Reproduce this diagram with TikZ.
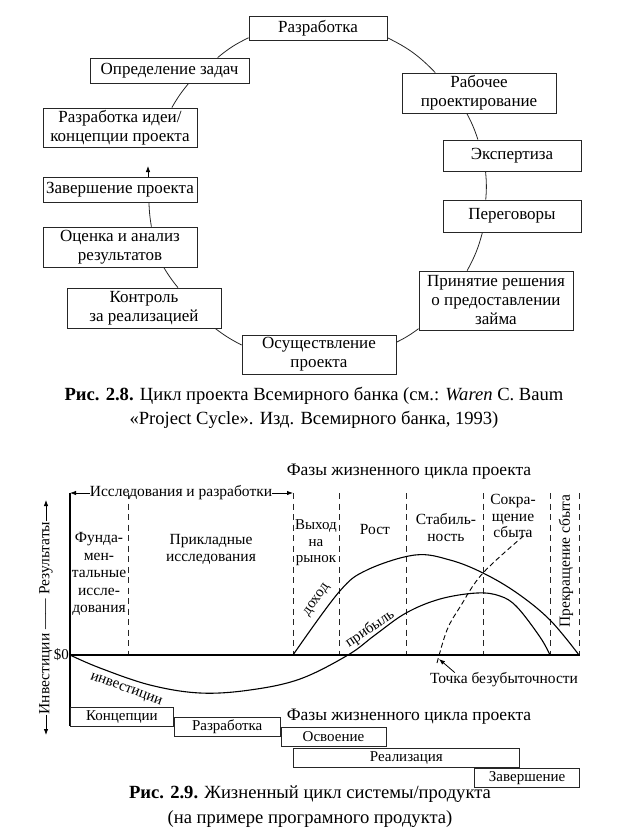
\documentclass[tikz,border=0pt]{standalone}
\usepackage{fontspec}
\setmainfont{Liberation Serif}
\usepackage{tikz}
\usetikzlibrary{arrows.meta, positioning}

\begin{document}
\begin{tikzpicture}[
        x=1pt, y=1pt,
        box/.style = {draw=black!85, rectangle, fill=white, line width=0.8pt, minimum width=154pt, align=center, inner sep=1pt, font=\fontsize{17}{19}\selectfont},
        phase/.style = {draw=black!85, rectangle, line width=0.8pt, minimum height=19pt, inner sep=0pt, font=\fontsize{15}{16}\selectfont},
        lbl/.style = {align=center, inner sep=0pt, font=\fontsize{15.5}{17}\selectfont},
        small/.style = {lbl, font=\fontsize{15}{15}\selectfont},
        link/.style = {draw=black!85, line width=0.8pt},
        arrow/.style = {draw=black, -{Latex[length=6pt, width=4.5pt]}, line width=0.8pt},
        axis/.style = {draw=black, line width=1.6pt},
        sep/.style = {draw=black!85, dash pattern=on 6pt off 4.5pt, line width=0.9pt},
        curve/.style = {draw=black, line width=1.1pt},
        capt/.style = {align=center, inner sep=0pt, font=\fontsize{18.6}{24.5}\selectfont}
    ]
    \useasboundingbox (0,0) rectangle (628,-833);

    % Цикл проекта
    \node (razr)  [box, minimum width=138pt, minimum height=24pt] at (318,-28) {Разработка};
    \node (opr)   [box, minimum width=159pt, minimum height=25pt] at (169.5,-70.5) {Определение задач};
    \node (ideya) [box, minimum height=39pt] at (120,-127.5) {Разработка идеи/\\концепции проекта};
    \node (zav)   [box, minimum height=25pt] at (120,-189.5) {Завершение проекта};
    \node (ocen)  [box, minimum height=40pt] at (120,-247) {Оценка и анализ\\результатов};
    \node (kontr) [box, minimum height=40pt] at (144,-308) {Контроль\\за реализацией};
    \node (osush) [box, minimum height=39pt] at (319,-354.5) {Осуществление\\проекта};
    \node (prin)  [box, minimum height=59pt] at (496,-300.5) {Принятие решения\\о предоставлении\\займа};
    \node (perg)  [box, minimum width=138pt, minimum height=32pt] at (512,-216) {Переговоры};
    \node (eksp)  [box, minimum width=138pt, minimum height=31pt] at (512,-155.5) {Экспертиза};
    \node (rab)   [box, minimum height=40pt] at (479,-93) {Рабочее\\проектирование};

    \draw [link] (razr.188) to[bend right=7] (opr.15);
    \draw [link] (opr.326) to[bend right=5] (ideya.21);
    \draw [link] (zav.336) to[bend right=4] (ocen.33);
    \draw [link] (ocen.335) to[bend right=4] (kontr.31);
    \draw [link] (kontr.344) to[bend right=5] (osush.173);
    \draw [link] (osush.9) to[bend right=5] (prin.200);
    \draw [link] (prin.134) to[bend right=7] (perg.209);
    \draw [link] (perg.148) to[bend right=5] (eksp.211);
    \draw [link] (eksp.155) to[bend right=5] (rab.239);
    \draw [link] (rab.155) to[bend right=10] (razr.352);

    \coordinate (tip) at (148,-166);
    \draw [arrow] (zav.north -| tip) -- (tip);

    \node (cap1) [capt] at (314,-408) {\textbf{Рис. 2.8.} Цикл проекта Всемирного банка (см.: \textit{Waren} C. Baum\\«Project Cycle». Изд. Всемирного банка, 1993)};

    % Жизненный цикл
    \coordinate (top) at (70,-493);
    \coordinate (bot) at (70,-726);
    \coordinate (o) at (70,-655);
    \coordinate (xend) at (580,-655);
    \coordinate (rend) at (293,-493);
    \coordinate (vup) at (46,-500);
    \coordinate (vdn) at (46,-735);
    \coordinate (be) at (439,-659);

    \node (ph1) [lbl, font=\fontsize{17.5}{19}\selectfont] at (409,-472) {Фазы жизненного цикла проекта};
    \node (res) [lbl] at (181,-493) {Исследования и разработки};
    \draw [arrow] (res.west) -- (top);
    \draw [arrow] (res.east) -- (rend);

    \foreach \x in {128,293,339,406,483,550,579}
        \draw [sep] (\x,-493) -- (\x,-655);

    \node (fund)  [lbl, font=\fontsize{15.5}{17.5}\selectfont] at (99,-574) {Фунда-\\мен-\\тальные\\иссле-\\дования};
    \node (prikl) [lbl] at (211,-549) {Прикладные\\исследования};
    \node (vyh)   [lbl, font=\fontsize{15}{16.5}\selectfont] at (316,-543) {Выход\\на\\рынок};
    \node (rost)  [lbl] at (375,-529) {Рост};
    \node (stab)  [lbl] at (446,-528) {Стабиль-\\ность};
    \node (sokr)  [lbl, font=\fontsize{15.5}{16.5}\selectfont] at (513,-516) {Сокра-\\щение\\сбыта};
    \node (prek)  [lbl, rotate=90] at (566,-561) {Прекращение сбыта};

    \draw [curve] plot [smooth, tension=0.6] coordinates {(293,-655) (339,-592) (367,-570) (415,-555) (450,-560) (483,-573) (517,-593) (550,-620) (579,-655)};
    \draw [curve] plot [smooth, tension=0.6] coordinates {(70,-655) (100,-668) (150,-685) (200,-693) (250,-690) (300,-679) (348,-655) (375,-635) (406,-613) (440,-599) (477,-593) (500,-596) (517,-607) (540,-637) (550,-655)};
    \draw [curve, line width=0.9pt, dash pattern=on 5pt off 3pt] plot [smooth, tension=0.6] coordinates {(437,-663) (447,-630) (460,-607) (483,-573) (527,-533)};

    \node (doh)  [small, rotate=55] at (317,-600) {доход};
    \node (prib) [small, rotate=34] at (370,-629) {прибыль};
    \node (inv)  [small, rotate=-20] at (126,-690) {инвестиции};

    \draw [axis] (top) -- (bot);
    \draw [axis] (o) -- (xend);
    \node (zero) [small, anchor=east] at (69,-655) {\$0};

    \node (vlab) [lbl, rotate=90] at (46,-618) {Инвестиции —— Результаты};
    \draw [arrow] (vlab.east) -- (vup);
    \draw [arrow] (vlab.west) -- (vdn);

    \node (tb) [lbl] at (504,-680) {Точка безубыточности};
    \draw [arrow] ([xshift=25pt]tb.north west) -- (be);

    % Фазы
    \node (ph2)   [lbl, font=\fontsize{17.5}{19}\selectfont] at (409,-717) {Фазы жизненного цикла проекта};
    \node (konc)  [phase, minimum width=103pt, anchor=north west] at (70,-707) {Концепции};
    \node (razr2) [phase, minimum width=106pt, anchor=north west] at (konc.east) {Разработка};
    \node (osv)   [phase, minimum width=105pt, anchor=north west] at (razr2.east) {Освоение};
    \node (real)  [phase, minimum width=226pt, anchor=north west] at (293,-748) {Реализация};
    \node (zav2)  [phase, minimum width=105pt, anchor=north east] at (real.south -| xend) {Завершение};

    \node (cap2) [capt] at (310,-806.5) {\textbf{Рис. 2.9.} Жизненный цикл системы/продукта\\(на примере програмного продукта)};

\end{tikzpicture}
\end{document}
